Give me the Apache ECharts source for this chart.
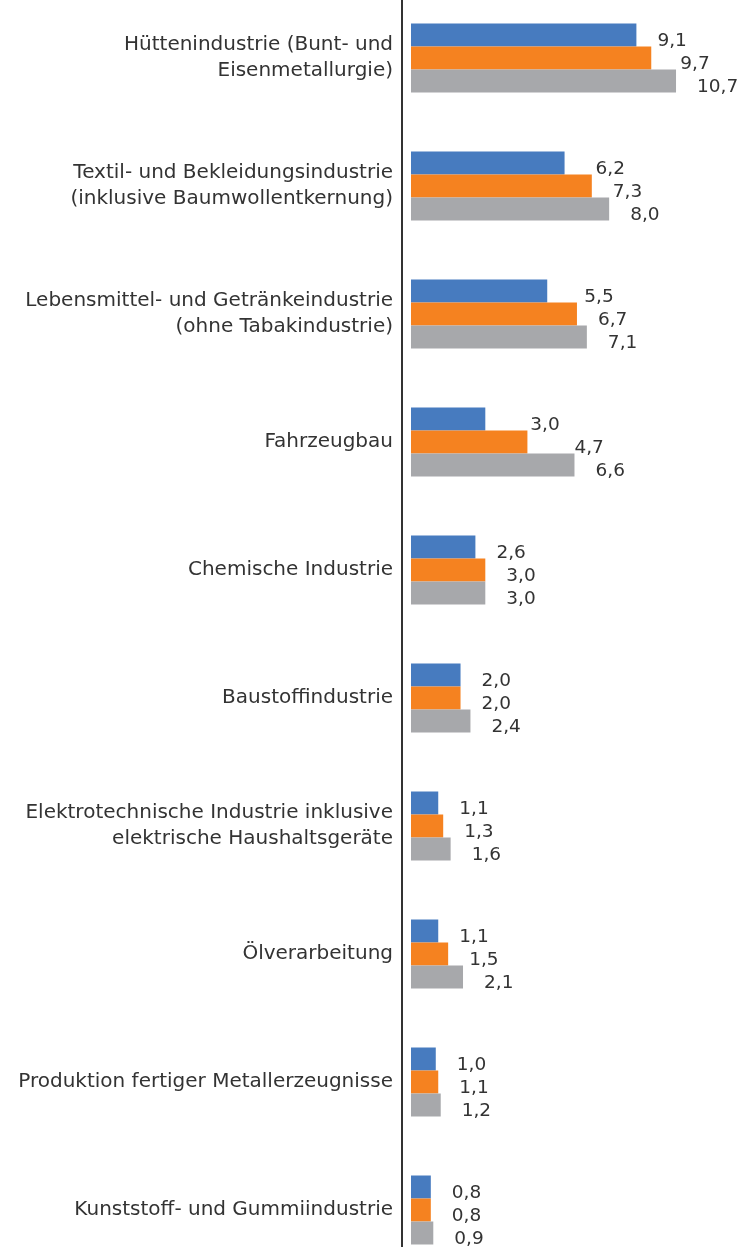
<!DOCTYPE html>
<html>
<head>
<meta charset="utf-8">
<script src="https://cdn.jsdelivr.net/npm/echarts@6/dist/echarts.min.js"></script>
<style>
    html, body { margin: 0; padding: 0; background: #fff; }
    #main { width: 742px; height: 1247px; }
</style>
</head>
<body>
<div id="main"></div>
<script>
var categories = [
    'Hüttenindustrie (Bunt- und\nEisenmetallurgie)',
    'Textil- und Bekleidungsindustrie\n(inklusive Baumwollentkernung)',
    'Lebensmittel- und Getränkeindustrie\n(ohne Tabakindustrie)',
    'Fahrzeugbau',
    'Chemische Industrie',
    'Baustoffindustrie',
    'Elektrotechnische Industrie inklusive\nelektrische Haushaltsgeräte',
    'Ölverarbeitung',
    'Produktion fertiger Metallerzeugnisse',
    'Kunststoff- und Gummiindustrie'
];
var blueValues = [9.1, 6.2, 5.5, 3.0, 2.6, 2.0, 1.1, 1.1, 1.0, 0.8];
var orangeValues = [9.7, 7.3, 6.7, 4.7, 3.0, 2.0, 1.3, 1.5, 1.1, 0.8];
var grayValues = [10.7, 8.0, 7.1, 6.6, 3.0, 2.4, 1.6, 2.1, 1.2, 0.9];

// extra horizontal nudge of some value labels, as in the original picture
var labelShift = { '0-3': 24, '0-2': 16, '0-1': 10, '1-3': 26, '1-0': 8 };

var colors = ['#477bbf', '#f58220', '#a7a8ab'];
var font = 'DejaVu Sans';

function makeSeries(values, idx) {
    return {
        type: 'bar',
        barWidth: 23,
        barGap: '0%',
        itemStyle: { color: colors[idx] },
        label: {
            show: true,
            position: 'right',
            distance: 21,
            offset: [0, 6],
            color: '#333',
            fontFamily: font,
            fontSize: 18.5,
            formatter: function (p) {
                return p.value.toFixed(1).replace('.', ',');
            }
        },
        data: values.map(function (v, i) {
            var s = labelShift[idx + '-' + i];
            if (s) {
                return { value: v, label: { offset: [s, 6] } };
            }
            return v;
        })
    };
}

var myChart = echarts.init(document.getElementById('main'));
myChart.setOption({
    animation: false,
    grid: { left: 411, right: 9, top: -6, bottom: -27, outerBoundsMode: 'none', containLabel: false },
    xAxis: {
        type: 'value',
        min: 0,
        max: 13,
        show: false
    },
    yAxis: {
        type: 'category',
        inverse: true,
        data: categories,
        offset: 9,
        axisLine: { show: true, onZero: false, lineStyle: { color: '#333', width: 2 } },
        axisTick: { show: false },
        axisLabel: {
            margin: 9,
            color: '#333',
            fontFamily: font,
            fontSize: 20,
            lineHeight: 26,
            align: 'right'
        }
    },
    series: [
        makeSeries(blueValues, 0),
        makeSeries(orangeValues, 1),
        makeSeries(grayValues, 2)
    ]
});
</script>
</body>
</html>
